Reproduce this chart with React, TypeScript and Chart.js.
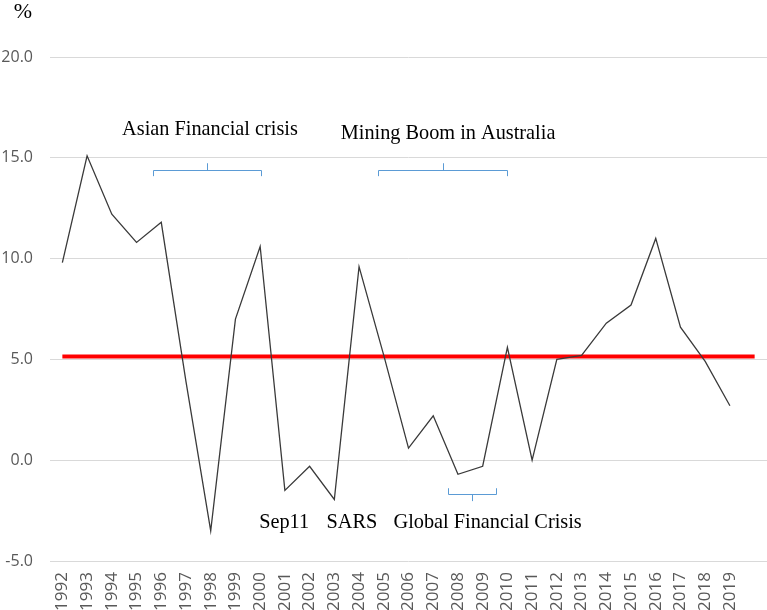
import React, { useEffect, useRef } from 'react';
import { Chart, registerables } from 'chart.js';

Chart.register(...registerables);

// ---- data ----
const years = [
  '1992', '1993', '1994', '1995', '1996', '1997', '1998', '1999', '2000', '2001',
  '2002', '2003', '2004', '2005', '2006', '2007', '2008', '2009', '2010', '2011',
  '2012', '2013', '2014', '2015', '2016', '2017', '2018', '2019', '',
];
const growth = [
  9.8, 15.1, 12.2, 10.8, 11.8, 3.9, -3.5, 7.0, 10.6, -1.5,
  -0.3, -1.95, 9.6, 5.2, 0.6, 2.2, -0.7, -0.3, 5.6, 0.0,
  5.0, 5.2, 6.8, 7.7, 11.0, 6.6, 4.9, 2.7, null,
];
const averageValue = 5.15;
const average = years.map(() => averageValue);
const yMin = -5;
const yMax = 20;
const yStep = 5;

// annotation texts: text, category position, value at baseline
const noteTexts = ['Asian Financial crisis', 'Mining Boom in Australia', 'Sep11', 'SARS', 'Global Financial Crisis'];
const notePositions = [5.97, 15.6, 8.97, 11.71, 17.2];
const noteValues = [16.12, 15.92, -3.37, -3.37, -3.37];

// brackets: start/end category positions, mid position, line value, end value, tip value
const bracketStart = [3.67, 12.77, 15.6];
const bracketEnd = [8.03, 17.99, 17.54];
const bracketMid = [5.85, 15.38, 16.57];
const bracketLine = [14.38, 14.38, -1.69];
const bracketEnds = [14.09, 14.09, -1.39];
const bracketTip = [14.73, 14.73, -2.03];

const annotationPlugin = {
  id: 'notes',
  afterDatasetsDraw(chart: any) {
    const { ctx } = chart;
    const x = chart.scales.x;
    const y = chart.scales.y;
    ctx.save();
    ctx.strokeStyle = '#5b9bd5';
    ctx.lineWidth = 1;
    for (let i = 0; i < bracketStart.length; i++) {
      const x0 = Math.round(x.getPixelForValue(bracketStart[i])) + 0.5;
      const x1 = Math.round(x.getPixelForValue(bracketEnd[i])) + 0.5;
      const xm = Math.round(x.getPixelForValue(bracketMid[i])) + 0.5;
      const yl = Math.round(y.getPixelForValue(bracketLine[i])) + 0.5;
      const ye = y.getPixelForValue(bracketEnds[i]);
      const yt = y.getPixelForValue(bracketTip[i]);
      ctx.beginPath();
      ctx.moveTo(x0, ye);
      ctx.lineTo(x0, yl);
      ctx.lineTo(x1, yl);
      ctx.lineTo(x1, ye);
      ctx.moveTo(xm, yl);
      ctx.lineTo(xm, yt);
      ctx.stroke();
    }
    ctx.fillStyle = '#000000';
    ctx.font = '20.3px "Liberation Serif", "Times New Roman", serif';
    ctx.textAlign = 'center';
    ctx.textBaseline = 'alphabetic';
    for (let i = 0; i < noteTexts.length; i++) {
      ctx.fillText(noteTexts[i], x.getPixelForValue(notePositions[i]), y.getPixelForValue(noteValues[i]));
    }
    ctx.font = '22px "Liberation Serif", "Times New Roman", serif';
    ctx.fillText('%', y.left + 23, y.getPixelForValue(yMax) - 39);
    ctx.restore();
  },
};

export default function App() {
  const canvasRef = useRef<HTMLCanvasElement | null>(null);

  useEffect(() => {
    const canvas = canvasRef.current;
    if (!canvas) return;
    const chart = new Chart(canvas, {
      type: 'line',
      data: {
        labels: years,
        datasets: [
          {
            label: 'Growth',
            data: growth,
            borderColor: '#3a3a3a',
            borderWidth: 1.3,
            pointRadius: 0,
            tension: 0,
            fill: false,
            spanGaps: false,
          },
          {
            label: 'Average',
            data: average,
            borderColor: '#ff0000',
            borderWidth: 4,
            pointRadius: 0,
            tension: 0,
            fill: false,
          },
        ],
      },
      options: {
        responsive: false,
        animation: false,
        events: [],
        layout: { padding: { top: 57, right: 0, bottom: 0, left: 0 } },
        plugins: {
          legend: { display: false },
          tooltip: { enabled: false },
          title: { display: false },
        },
        scales: {
          x: {
            type: 'category',
            offset: true,
            grid: { display: false, drawTicks: false },
            border: { display: false },
            ticks: {
              autoSkip: false,
              minRotation: 90,
              maxRotation: 90,
              padding: 11,
              color: '#595959',
              font: { family: '"Open Sans", sans-serif', size: 17 },
            },
            afterFit(scale: any) {
              scale.height = 49;
              scale.paddingLeft = 0;
              scale.paddingRight = 0;
            },
          },
          y: {
            min: yMin,
            max: yMax,
            grid: { color: '#d9d9d9', lineWidth: 1, drawTicks: false },
            border: { display: false },
            ticks: {
              stepSize: yStep,
              padding: 17,
              color: '#595959',
              font: { family: '"Open Sans", sans-serif', size: 16 },
              callback: (v: any) => Number(v).toFixed(1),
            },
            afterFit(scale: any) {
              scale.width = 50;
            },
          },
        },
      },
      plugins: [annotationPlugin],
    });
    return () => chart.destroy();
  }, []);

  return (
    <div style={{ position: 'fixed', left: 0, top: 0, width: 767, height: 610, background: '#ffffff' }}>
      <canvas ref={canvasRef} width={767} height={610} style={{ display: 'block' }} />
    </div>
  );
}
